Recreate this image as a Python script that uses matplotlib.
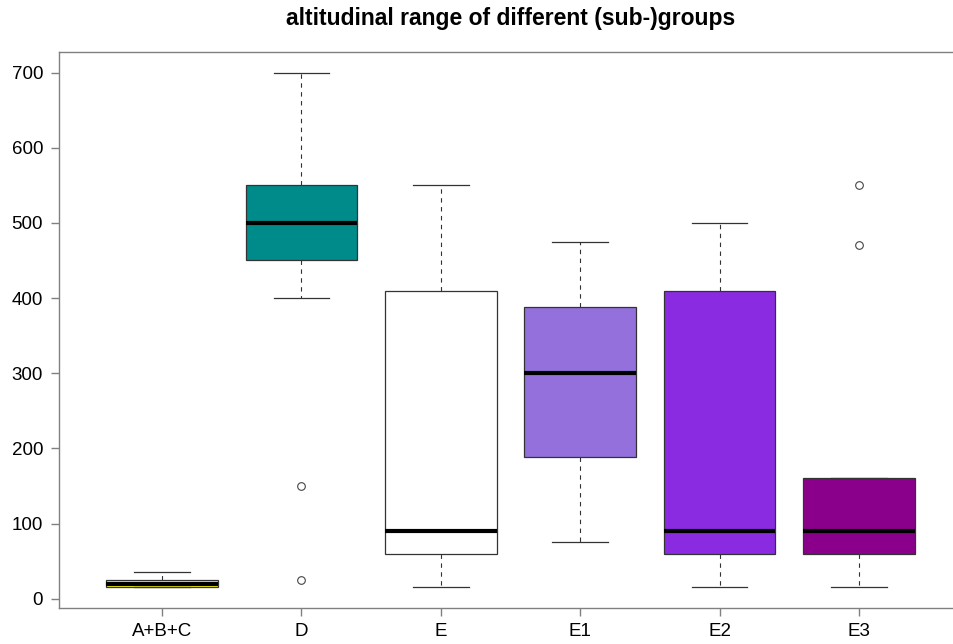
import matplotlib
matplotlib.use("Agg")
import matplotlib.pyplot as plt

plt.rcParams['font.family'] = ['Liberation Sans', 'DejaVu Sans']

categories = ["A+B+C", "D", "E", "E1", "E2", "E3"]
whislo = [15, 400, 15, 75, 15, 15]
q1 = [15, 450, 60, 188, 60, 60]
med = [20, 500, 90, 300, 90, 90]
q3 = [25, 550, 410, 388, 410, 160]
whishi = [35, 700, 550, 475, 500, 160]
fliers = [[], [150, 25], [], [], [], [470, 550]]
colors = ["#FFFF00", "#008B8B", "#FFFFFF", "#9370DB", "#8A2BE2", "#8B008B"]
yticks = [0, 100, 200, 300, 400, 500, 600, 700]
title = "altitudinal range of different (sub-)groups"

W, H = 954, 644
fig = plt.figure(figsize=(W / 100, H / 100), dpi=100)
ax = fig.add_axes([59 / W, 1 - 608 / H, (962 - 59) / W, (608 - 52) / H])

stats = []
for i, c in enumerate(categories):
    stats.append(dict(label=c, whislo=whislo[i], q1=q1[i], med=med[i],
                      q3=q3[i], whishi=whishi[i], fliers=fliers[i]))

positions = list(range(1, len(categories) + 1))
res = ax.bxp(stats, positions=positions, widths=0.8, capwidths=0.4,
             patch_artist=True,
             boxprops=dict(edgecolor="#333333", linewidth=0.9),
             medianprops=dict(color="black", linewidth=3.0, solid_capstyle="butt"),
             whiskerprops=dict(color="#333333", linewidth=0.8, linestyle=(0, (4, 4))),
             capprops=dict(color="#333333", linewidth=0.9),
             flierprops=dict(marker="o", markerfacecolor="none",
                             markeredgecolor="#444444", markersize=5.5,
                             markeredgewidth=0.8))
for patch, col in zip(res["boxes"], colors):
    patch.set_facecolor(col)

ax.set_xlim(0.26, 6.74)
ax.set_ylim(-12.4, 727.4)
ax.set_yticks(yticks)
ax.set_yticklabels([str(v) for v in yticks])
ax.set_xticks(positions)
ax.set_xticklabels(categories)
ax.tick_params(axis="both", colors="#808080", labelcolor="black",
               labelsize=13.5, length=6, width=1.0)
ax.tick_params(axis="y", pad=5.5)
ax.tick_params(axis="x", pad=5)
for s in ax.spines.values():
    s.set_color("#808080")
    s.set_linewidth(1.0)
ax.spines["right"].set_visible(False)

fig.text(510.5 / W, 1 - 19 / H, title, ha="center", va="center",
         fontsize=16.5, fontweight="bold")

fig.savefig("out.png", dpi=100)
